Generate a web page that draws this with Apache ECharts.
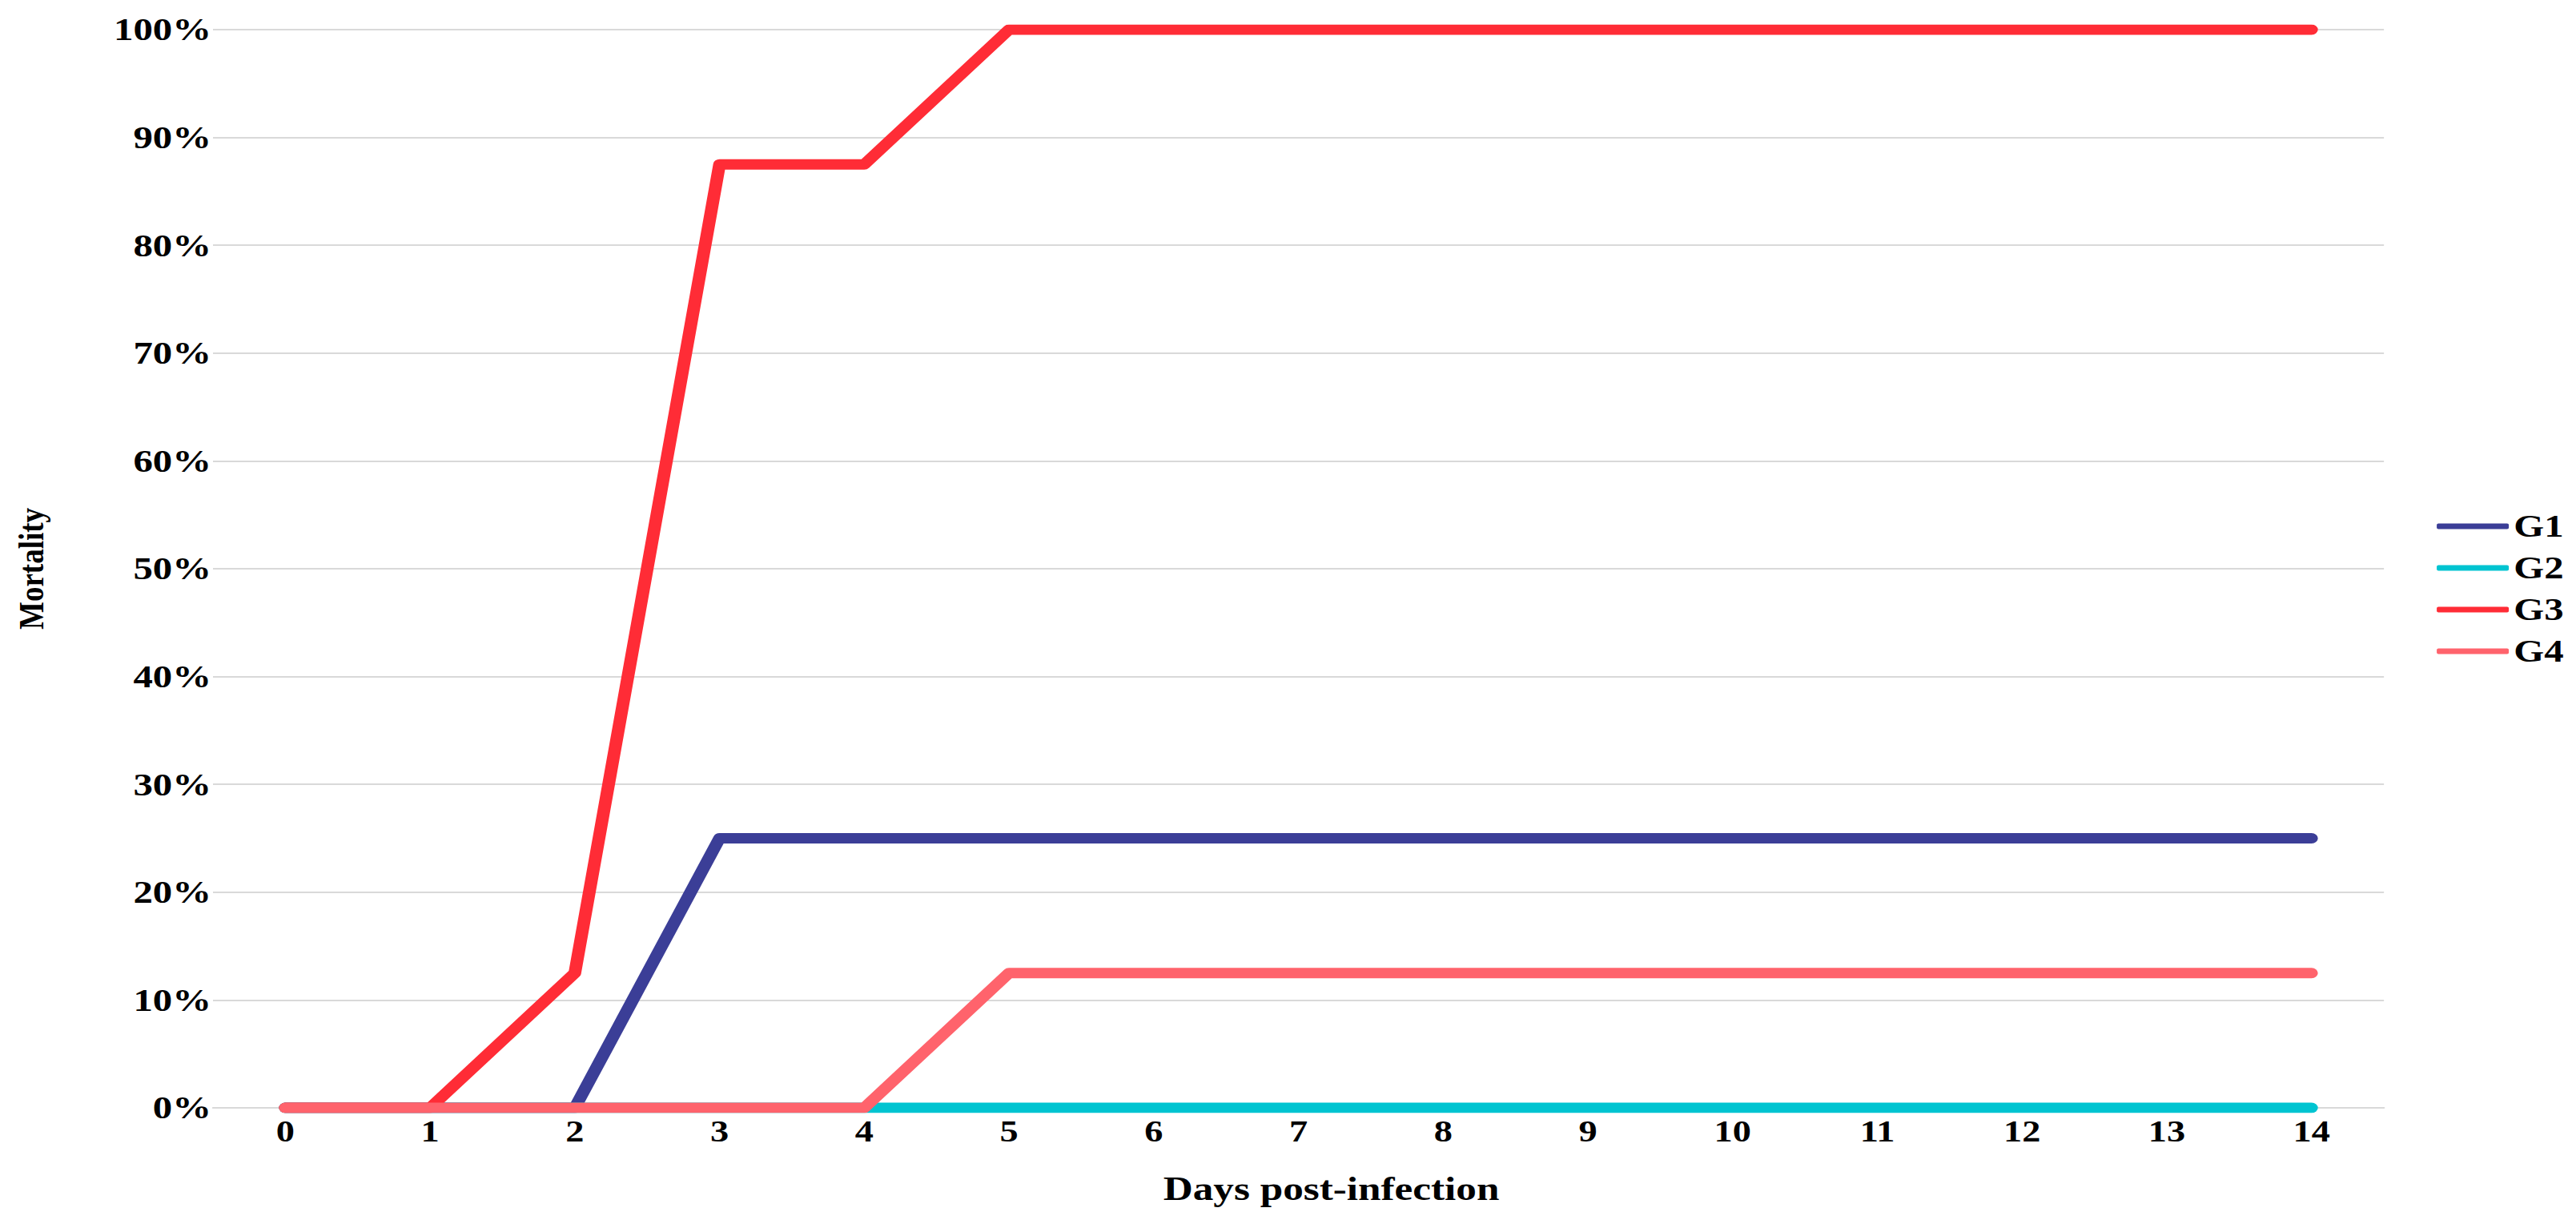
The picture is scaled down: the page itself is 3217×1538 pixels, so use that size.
<!DOCTYPE html>
<html>
<head>
<meta charset="utf-8">
<script src="https://cdn.jsdelivr.net/npm/echarts@6/dist/echarts.min.js"></script>
<style>
  html, body { margin: 0; padding: 0; background: #ffffff; overflow: hidden; }
  #wrap { width: 3217px; height: 1538px; overflow: hidden; }
  #chart { height: 1538px; transform-origin: 0 0; }
</style>
</head>
<body>
<div id="wrap"><div id="chart"></div></div>
<script>
// ---- data ----
const days = ['0','1','2','3','4','5','6','7','8','9','10','11','12','13','14'];
const seriesNames = ['G1', 'G2', 'G3', 'G4'];
const g1 = [0, 0, 0, 25, 25, 25, 25, 25, 25, 25, 25, 25, 25, 25, 25];
const g2 = [0, 0, 0, 0, 0, 0, 0, 0, 0, 0, 0, 0, 0, 0, 0];
const g3 = [0, 0, 12.5, 87.5, 87.5, 100, 100, 100, 100, 100, 100, 100, 100, 100, 100];
const g4 = [0, 0, 0, 0, 0, 12.5, 12.5, 12.5, 12.5, 12.5, 12.5, 12.5, 12.5, 12.5, 12.5];
const colors = ['#3B3E97', '#00C4D1', '#FF2C36', '#FF636C'];

// horizontal stretch of the reference picture
const S = 1.22;
const W = 3217 / S;
const el = document.getElementById('chart');
el.style.width = W + 'px';
el.style.transform = 'scaleX(' + S + ')';
const px = v => v / S;

const FONT = 'Liberation Serif';
const chart = echarts.init(el, null, { renderer: 'svg' });

const values = [g1, g2, g3, g4];
chart.setOption({
  backgroundColor: '#ffffff',
  animation: false,
  color: colors,
  grid: { left: px(266), right: px(3217 - 2977), top: 37, bottom: 155, containLabel: false },
  legend: {
    orient: 'vertical',
    left: px(3037),
    top: 632,
    icon: 'roundRect',
    itemWidth: px(90),
    itemHeight: 7,
    itemGap: 12,
    textStyle: { fontFamily: FONT, fontWeight: 'bold', fontSize: 40, color: '#000000' },
    data: seriesNames
  },
  xAxis: {
    type: 'category',
    data: days,
    boundaryGap: true,
    name: 'Days post-infection',
    nameLocation: 'middle',
    nameGap: 80,
    nameTextStyle: { fontFamily: FONT, fontWeight: 'bold', fontSize: 42, color: '#000000', padding: [0, 0, 0, px(82)] },
    axisLine: { show: true, lineStyle: { color: '#D9D9D9', width: 2 } },
    axisTick: { show: false },
    axisLabel: { fontFamily: FONT, fontWeight: 'bold', fontSize: 38, color: '#000000', margin: 10 },
    splitLine: { show: false }
  },
  yAxis: {
    type: 'value',
    min: 0,
    max: 100,
    interval: 10,
    name: 'Mortality',
    nameLocation: 'middle',
    nameRotate: 90,
    nameGap: px(205),
    nameTextStyle: { fontFamily: FONT, fontWeight: 'bold', fontSize: 37, color: '#000000' },
    axisLine: { show: false },
    axisTick: { show: false },
    axisLabel: { formatter: '{value}%', fontFamily: FONT, fontWeight: 'bold', fontSize: 40, color: '#000000', margin: px(2) },
    splitLine: { show: true, lineStyle: { color: '#D9D9D9', width: 2 } }
  },
  series: seriesNames.map((n, i) => ({
    name: n,
    type: 'line',
    data: values[i],
    symbol: 'none',
    showSymbol: false,
    z: 2 + i,
    lineStyle: { width: 13, color: colors[i], cap: 'round', join: 'round' },
    itemStyle: { color: colors[i] }
  }))
});
</script>
</body>
</html>
